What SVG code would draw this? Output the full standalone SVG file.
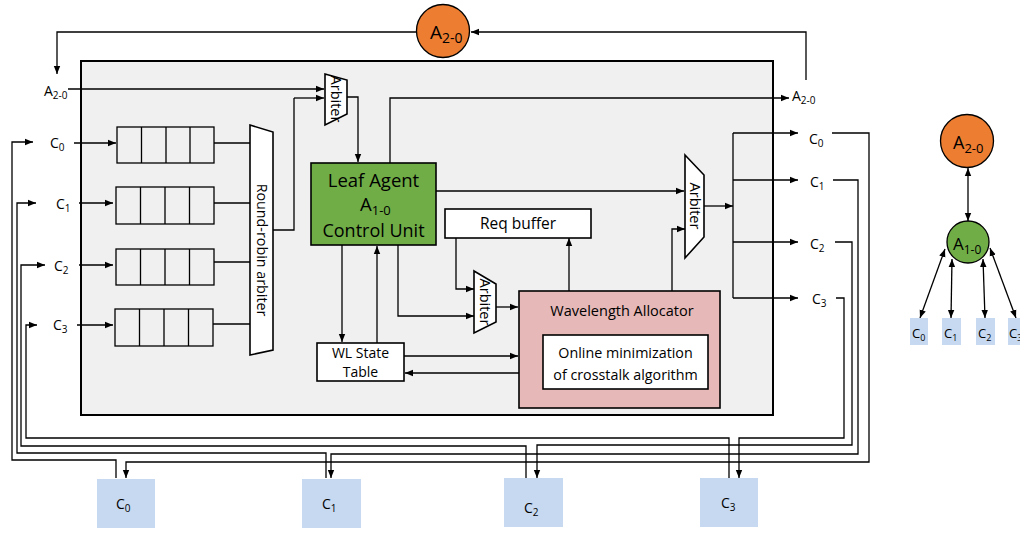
<svg xmlns="http://www.w3.org/2000/svg" width="1020" height="533" viewBox="0 0 1020 533">
<style>
text{font-family:"Open Sans","Liberation Sans",sans-serif;fill:#000}
.w{fill:none;stroke:#000;stroke-width:1.3}
.a{marker-end:url(#ah)}
.d{marker-end:url(#ah);marker-start:url(#ah)}
.bx{stroke:#000;stroke-width:1.6}
.lbl{font-size:14px}
.sub{font-size:10px}
</style>
<defs>
<marker id="ah" viewBox="0 0 10 10" refX="10" refY="5" markerWidth="8" markerHeight="8" markerUnits="userSpaceOnUse" orient="auto-start-reverse"><path d="M0,1 L10,5 L0,9 z" fill="#000"/></marker>
</defs>

<g id="mainbox"><rect x="81" y="61" width="692" height="354" fill="#f0f0f0" stroke="#000" stroke-width="2"/></g>

<g id="connectors">
<polyline class="w a" points="416,32 57,32 57,74"/>
<polyline class="w a" points="806,80 806,32 471,32"/>
<polyline class="w a" points="68,89 324,89"/>
<polyline class="w" points="273,230 294,230 294,98"/>
<polyline class="w a" points="294,98 324,98"/>
<polyline class="w a" points="347,97 358,97 358,162"/>
<polyline class="w a" points="390,163 390,98 789,98"/>
<polyline class="w a" points="436,191 684,191"/>
<polyline class="w a" points="704,206 733,206"/>
<polyline class="w" points="733,133 733,298"/>
<polyline class="w a" points="733,133 798,133"/>
<polyline class="w a" points="733,180 798,180"/>
<polyline class="w a" points="733,242 798,242"/>
<polyline class="w a" points="733,298 798,298"/>
<polyline class="w a" points="672,291 672,229 685,229"/>
<polyline class="w a" points="456,238 456,289 474,289"/>
<polyline class="w a" points="398,245 398,316 474,316"/>
<polyline class="w a" points="496,307 518,307"/>
<polyline class="w a" points="569,291 569,238"/>
<polyline class="w a" points="342,245 342,342"/>
<polyline class="w a" points="377,343 377,246"/>
<polyline class="w a" points="404,356 518,356"/>
<polyline class="w a" points="519,373 405,373"/>
<polyline class="w" points="214,143 250,143"/>
<polyline class="w" points="214,203 250,203"/>
<polyline class="w" points="214,262 250,262"/>
<polyline class="w" points="213,324 250,324"/>
<polyline class="w a" points="74,143 116,143"/>
<polyline class="w a" points="79,203 113,203"/>
<polyline class="w a" points="79,265 113,265"/>
<polyline class="w a" points="77,325 113,325"/>
<polyline class="w a" points="116,478 116,460 12,460 12,142 33,142"/>
<polyline class="w a" points="326,478 326,453 17,453 17,203 36,203"/>
<polyline class="w a" points="526,478 526,446 21,446 21,265 45,265"/>
<polyline class="w a" points="729,478 729,438 26,438 26,325 37,325"/>
<polyline class="w a" points="832,133 869,133 869,462 126,462 126,478"/>
<polyline class="w a" points="833,180 858,180 858,454 331,454 331,478"/>
<polyline class="w a" points="835,242 852,242 852,445 537,445 537,478"/>
<polyline class="w a" points="836,298 844,298 844,438 739,438 739,478"/>
<polyline class="w d" points="968,168 968,221"/>
<polyline class="w d" points="945,249 920,318"/>
<polyline class="w d" points="952,259 951,318"/>
<polyline class="w d" points="983,259 985,318"/>
<polyline class="w d" points="990,248 1016,318"/>
</g>

<g id="A20top"><circle cx="443" cy="31" r="26.5" fill="#ed7d31" stroke="#000" stroke-width="1.3"/>
<text x="430" y="39" font-size="19">A<tspan font-size="14" dy="4">2-0</tspan></text></g>

<g id="lblA20left"><text class="lbl" x="44" y="96">A<tspan class="sub" dy="3">2-0</tspan></text></g>
<g id="lblA20right"><text class="lbl" x="792" y="101">A<tspan class="sub" dy="3">2-0</tspan></text></g>

<g id="inlabels">
<text class="lbl" x="50" y="148">C<tspan class="sub" dy="3">0</tspan></text>
<text class="lbl" x="56" y="209">C<tspan class="sub" dy="3">1</tspan></text>
<text class="lbl" x="54" y="271">C<tspan class="sub" dy="3">2</tspan></text>
<text class="lbl" x="53" y="330">C<tspan class="sub" dy="3">3</tspan></text>
</g>
<g id="outlabels">
<text class="lbl" x="809" y="144">C<tspan class="sub" dy="3">0</tspan></text>
<text class="lbl" x="810" y="187">C<tspan class="sub" dy="3">1</tspan></text>
<text class="lbl" x="810" y="249">C<tspan class="sub" dy="3">2</tspan></text>
<text class="lbl" x="812" y="304">C<tspan class="sub" dy="3">3</tspan></text>
</g>

<g id="queue0" fill="none" stroke="#000" stroke-width="1.3"><rect x="117" y="127" width="97" height="36"/><path d="M141.5,127V163M166,127V163M190,127V163"/></g>
<g id="queue1" fill="none" stroke="#000" stroke-width="1.3"><rect x="116" y="187" width="98" height="37"/><path d="M140.5,187V224M165,187V224M189.5,187V224"/></g>
<g id="queue2" fill="none" stroke="#000" stroke-width="1.3"><rect x="116" y="249" width="98" height="36"/><path d="M140.5,249V285M165,249V285M189.5,249V285"/></g>
<g id="queue3" fill="none" stroke="#000" stroke-width="1.3"><rect x="115" y="309" width="98" height="37"/><path d="M139.5,309V346M164,309V346M188.5,309V346"/></g>

<g id="rrarbiter"><polygon points="250,125 273,132 273,350 250,355" fill="#fff" class="bx"/>
<text transform="translate(262,250) rotate(90)" text-anchor="middle" dominant-baseline="central" font-size="14.3">Round-robin arbiter</text></g>

<g id="arbiterTop"><polygon points="325,74 347,80 347,114 325,125" fill="#fff" class="bx"/>
<text transform="translate(336,99) rotate(90)" text-anchor="middle" dominant-baseline="central" font-size="14.5">Arbiter</text></g>

<g id="arbiterRight"><polygon points="685,155 704,175 704,237 685,258" fill="#fff" class="bx"/>
<text transform="translate(695,206) rotate(90)" text-anchor="middle" dominant-baseline="central" font-size="14.5">Arbiter</text></g>

<g id="arbiterSmall"><polygon points="474,271 496,284 496,322 474,333" fill="#fff" class="bx"/>
<text transform="translate(485,302) rotate(90)" text-anchor="middle" dominant-baseline="central" font-size="14.5">Arbiter</text></g>

<g id="leafagent"><rect x="311" y="163" width="125" height="82" fill="#70ad47" class="bx"/>
<text x="373.5" y="187" text-anchor="middle" font-size="18.5">Leaf Agent</text>
<text x="360" y="211" font-size="18.5">A<tspan font-size="13" dy="4">1-0</tspan></text>
<text x="373.5" y="237" text-anchor="middle" font-size="18">Control Unit</text></g>

<g id="reqbuffer"><rect x="445" y="209" width="146" height="29" fill="#fff" class="bx"/>
<text x="518" y="229" text-anchor="middle" font-size="15.5">Req buffer</text></g>

<g id="wlstate"><rect x="317" y="343" width="87" height="38" fill="#fff" class="bx"/>
<text x="360.5" y="358" text-anchor="middle" font-size="14">WL State</text>
<text x="360.5" y="377" text-anchor="middle" font-size="14">Table</text></g>

<g id="wavealloc"><rect x="519" y="291" width="201" height="117" fill="#e6b8b7" class="bx"/>
<text x="622" y="316" text-anchor="middle" font-size="14.5">Wavelength Allocator</text>
<rect x="543" y="335" width="165" height="54" fill="#fff" class="bx"/>
<text x="625.5" y="358" text-anchor="middle" font-size="14.3">Online minimization</text>
<text x="625.5" y="380" text-anchor="middle" font-size="14.3">of crosstalk algorithm</text></g>

<g id="C0box"><rect x="97" y="479" width="58" height="49" fill="#c6d9f0"/><text class="lbl" x="116" y="509">C<tspan class="sub" dy="3">0</tspan></text></g>
<g id="C1box"><rect x="302" y="479" width="59" height="49" fill="#c6d9f0"/><text class="lbl" x="322" y="509">C<tspan class="sub" dy="3">1</tspan></text></g>
<g id="C2box"><rect x="504" y="478" width="59" height="49" fill="#c6d9f0"/><text class="lbl" x="524" y="513">C<tspan class="sub" dy="3">2</tspan></text></g>
<g id="C3box"><rect x="700" y="478" width="58" height="49" fill="#c6d9f0"/><text class="lbl" x="721" y="508">C<tspan class="sub" dy="3">3</tspan></text></g>

<g id="treeA20"><circle cx="967" cy="141" r="26.5" fill="#ed7d31" stroke="#000" stroke-width="1.3"/>
<text x="953" y="149" font-size="18">A<tspan font-size="13" dy="4">2-0</tspan></text></g>
<g id="treeA10"><circle cx="968" cy="242" r="21" fill="#70ad47" stroke="#000" stroke-width="1.3"/>
<text x="953" y="250" font-size="17">A<tspan font-size="12" dy="4">1-0</tspan></text></g>
<g id="treeC0"><rect x="910" y="318" width="18" height="27" fill="#c6d9f0"/><text x="912" y="338" font-size="13">C<tspan font-size="9" dy="3">0</tspan></text></g>
<g id="treeC1"><rect x="942" y="318" width="19" height="27" fill="#c6d9f0"/><text x="944" y="338" font-size="13">C<tspan font-size="9" dy="3">1</tspan></text></g>
<g id="treeC2"><rect x="976" y="318" width="19" height="27" fill="#c6d9f0"/><text x="978" y="338" font-size="13">C<tspan font-size="9" dy="3">2</tspan></text></g>
<g id="treeC3"><rect x="1008" y="318" width="18" height="27" fill="#c6d9f0"/><text x="1009" y="338" font-size="13">C<tspan font-size="9" dy="3">3</tspan></text></g>
</svg>
